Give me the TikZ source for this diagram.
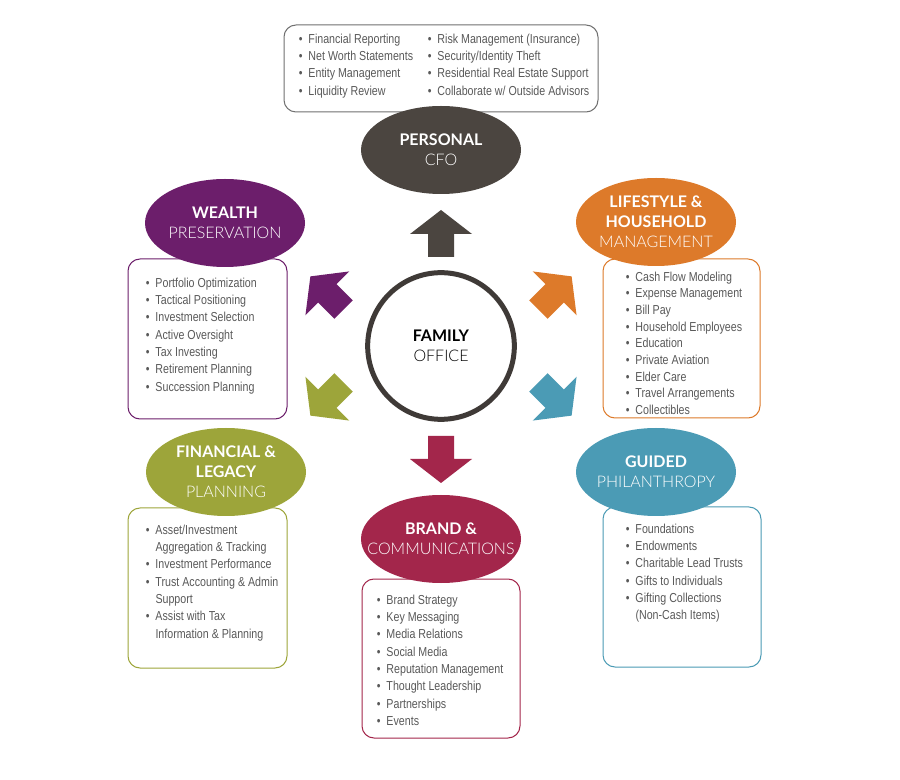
\documentclass[tikz,border=0pt]{standalone}
\usepackage{fontspec}
\setmainfont{Liberation Sans}[FakeStretch=0.82]
\newfontfamily\headfont{Lato}
\IfFontExistsTF{Lato Light}{\newfontfamily\headlight{Lato Light}}{\newfontfamily\headlight{Lato}}
\usepackage{xcolor}
\usetikzlibrary{positioning,shapes.geometric}

\definecolor{cfoc}{HTML}{4B4540}
\definecolor{wealthc}{HTML}{6C1E6B}
\definecolor{lifec}{HTML}{DD7A2A}
\definecolor{legacyc}{HTML}{9DA53A}
\definecolor{philc}{HTML}{4B9BB5}
\definecolor{brandc}{HTML}{A3264B}
\definecolor{ringc}{HTML}{3F3A37}
\definecolor{itemc}{HTML}{595959}
\definecolor{framec}{HTML}{707070}

\newcommand{\itemline}[1]{\textbullet\hspace{4.5pt}#1}
\newcommand{\moreline}[1]{\hphantom{\textbullet}\hspace{4.5pt}#1}
\newcommand{\thin}[1]{{\headlight #1}}

\begin{document}
\begin{tikzpicture}[
    x=0.75pt, y=-0.75pt,
    hub/.style={ellipse, fill=#1, minimum width=120pt, minimum height=66pt, inner sep=0pt},
    hubtext/.style={text=white, inner sep=0pt, align=center, font=\headfont\fontsize{12}{15}\selectfont},
    panel/.style={rectangle, draw=#1, line width=0.75pt, rounded corners=9pt, inner sep=0pt},
    items/.style={inner sep=0pt, align=left, text=itemc, font=\fontsize{9.75}{13}\selectfont},
    flowarrow/.pic={\fill (0,-23.5) -- (31,0.5) -- (13,0.5) -- (13,23.5) -- (-13,23.5)
        -- (-13,0.5) -- (-31,0.5) -- cycle;}
]
    \fill[white] (0,0) rectangle (900,780);
    \useasboundingbox (0,0) rectangle (900,780);

    % panels
    \node[panel=framec, minimum width=235.5pt, minimum height=65.25pt] (cfobox) at (441,68.5) {};
    \node[panel=wealthc, minimum width=119.25pt, minimum height=120pt] (wealthbox) at (207.5,339) {};
    \node[panel=lifec, minimum width=117.75pt, minimum height=119.25pt] (lifebox) at (681.5,338.5) {};
    \node[panel=legacyc, minimum width=119.25pt, minimum height=120pt] (legacybox) at (207.5,588) {};
    \node[panel=philc, minimum width=118.5pt, minimum height=120pt] (philbox) at (682,587) {};
    \node[panel=brandc, minimum width=118.5pt, minimum height=119.25pt] (brandbox) at (441,658.5) {};

    % lists
    \node[items, below right=6.75pt and 11.25pt of cfobox.north west] (cfolistA)
        {\itemline{Financial Reporting}\\\itemline{Net Worth Statements}\\
         \itemline{Entity Management}\\\itemline{Liquidity Review}};
    \node[items, below right=6.75pt and 108pt of cfobox.north west] (cfolistB)
        {\itemline{Risk Management (Insurance)}\\\itemline{Security/Identity Theft}\\
         \itemline{Residential Real Estate Support}\\\itemline{Collaborate w/ Outside Advisors}};
    \node[items, below right=14.25pt and 13.5pt of wealthbox.north west] (wealthlist)
        {\itemline{Portfolio Optimization}\\\itemline{Tactical Positioning}\\
         \itemline{Investment Selection}\\\itemline{Active Oversight}\\
         \itemline{Tax Investing}\\\itemline{Retirement Planning}\\
         \itemline{Succession Planning}};
    \node[items, font=\fontsize{9.75}{12.5}\selectfont,
        below right=9.75pt and 17.25pt of lifebox.north west] (lifelist)
        {\itemline{Cash Flow Modeling}\\\itemline{Expense Management}\\
         \itemline{Bill Pay}\\\itemline{Household Employees}\\
         \itemline{Education}\\\itemline{Private Aviation}\\
         \itemline{Elder Care}\\\itemline{Travel Arrangements}\\
         \itemline{Collectibles}};
    \node[items, below right=12.75pt and 13.5pt of legacybox.north west] (legacylist)
        {\itemline{Asset/Investment}\\\moreline{Aggregation \& Tracking}\\
         \itemline{Investment Performance}\\\itemline{Trust Accounting \& Admin}\\
         \moreline{Support}\\\itemline{Assist with Tax}\\
         \moreline{Information \& Planning}};
    \node[items, below right=12.75pt and 17.25pt of philbox.north west] (phillist)
        {\itemline{Foundations}\\\itemline{Endowments}\\
         \itemline{Charitable Lead Trusts}\\\itemline{Gifts to Individuals}\\
         \itemline{Gifting Collections}\\\moreline{(Non-Cash Items)}};
    \node[items, below right=12pt and 11.25pt of brandbox.north west] (brandlist)
        {\itemline{Brand Strategy}\\\itemline{Key Messaging}\\
         \itemline{Media Relations}\\\itemline{Social Media}\\
         \itemline{Reputation Management}\\\itemline{Thought Leadership}\\
         \itemline{Partnerships}\\\itemline{Events}};

    % service ovals
    \node[hub=cfoc] (cfo) at (441,150) {};
    \node[hub=wealthc] (wealth) at (225,223) {};
    \node[hub=lifec] (life) at (656,222) {};
    \node[hub=legacyc] (legacy) at (226,472) {};
    \node[hub=philc] (phil) at (656,472) {};
    \node[hub=brandc] (brand) at (441,539) {};
    \node[hubtext] (cfotxt) at (cfo) {\textbf{PERSONAL}\\\thin{CFO}};
    \node[hubtext] (wealthtxt) at (wealth) {\textbf{WEALTH}\\\thin{PRESERVATION}};
    \node[hubtext] (lifetxt) at (life) {\textbf{LIFESTYLE \&}\\\textbf{HOUSEHOLD}\\\thin{MANAGEMENT}};
    \node[hubtext] (legacytxt) at (legacy) {\textbf{FINANCIAL \&}\\\textbf{LEGACY}\\\thin{PLANNING}};
    \node[hubtext] (philtxt) at (phil) {\textbf{GUIDED}\\\thin{PHILANTHROPY}};
    \node[hubtext] (brandtxt) at (brand) {\textbf{BRAND \&}\\\thin{COMMUNICATIONS}};

    % centre
    \node[circle, draw=ringc, line width=3.75pt, minimum size=110pt] (office) at (441,346) {};
    \node[hubtext, text=black] (officetxt) at (office) {\textbf{FAMILY}\\\thin{OFFICE}};

    % arrows out of the centre
    \pic[fill=cfoc] (toCFO) at (441,233.5) {flowarrow};
    \pic[fill=brandc, rotate=180] (toBrand) at (441,459.5) {flowarrow};
    \pic[fill=wealthc, rotate=45] (toWealth) at (327,293) {flowarrow};
    \pic[fill=lifec, rotate=-45] (toLife) at (555,293) {flowarrow};
    \pic[fill=legacyc, rotate=135] (toLegacy) at (327,399) {flowarrow};
    \pic[fill=philc, rotate=-135] (toPhil) at (555,399) {flowarrow};
\end{tikzpicture}
\end{document}
